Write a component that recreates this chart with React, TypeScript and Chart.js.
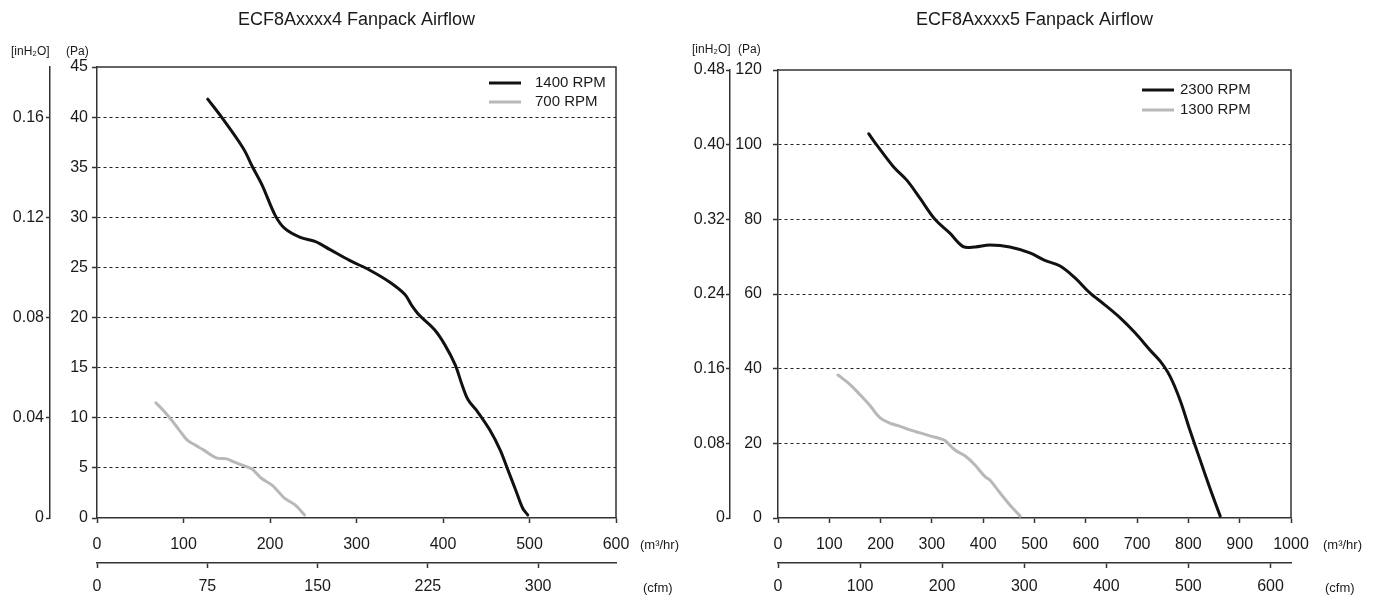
import React, { useEffect, useRef } from "react";
import { Chart, registerables } from "chart.js";
Chart.register(...registerables);

// ---------- Left chart data ----------
const leftTitle = "ECF8Axxxx4 Fanpack Airflow";
const leftXTicks = [0, 100, 200, 300, 400, 500, 600];
const leftCfmTicks = [0, 75, 150, 225, 300];
const leftPaTicks = [0, 5, 10, 15, 20, 25, 30, 35, 40, 45];
const leftInTicks = [0, 0.04, 0.08, 0.12, 0.16];
const leftInLabels = ["0", "0.04", "0.08", "0.12", "0.16"];
const leftLabels = ["1400 RPM", "700 RPM"];
const leftAirflow1400 = [128, 144, 169, 180, 191, 206, 217, 235, 252, 269, 292, 316, 339, 356, 364, 373, 390, 402, 414, 422, 429, 440, 454, 466, 475, 484, 492, 498];
const leftPressure1400 = [41.8, 40, 36.9, 35, 33.2, 30.2, 28.9, 28.0, 27.6, 26.8, 25.7, 24.7, 23.5, 22.3, 21.2, 20.2, 18.8, 17.3, 15.3, 13.3, 11.8, 10.6, 8.8, 6.8, 4.8, 2.8, 1.0, 0.3];
const leftAirflow700 = [68, 76, 84, 94, 104, 113, 123, 138, 150, 158, 167, 179, 185, 190, 202, 210, 217, 229, 240];
const leftPressure700 = [11.5, 10.8, 10, 8.9, 7.8, 7.3, 6.8, 6.0, 5.9, 5.6, 5.3, 4.9, 4.4, 3.96, 3.3, 2.6, 1.96, 1.3, 0.3];

// ---------- Right chart data ----------
const rightTitle = "ECF8Axxxx5 Fanpack Airflow";
const rightXTicks = [0, 100, 200, 300, 400, 500, 600, 700, 800, 900, 1000];
const rightCfmTicks = [0, 100, 200, 300, 400, 500, 600];
const rightPaTicks = [0, 20, 40, 60, 80, 100, 120];
const rightInTicks = [0, 0.08, 0.16, 0.24, 0.32, 0.4, 0.48];
const rightInLabels = ["0", "0.08", "0.16", "0.24", "0.32", "0.40", "0.48"];
const rightLabels = ["2300 RPM", "1300 RPM"];
const rightAirflow2300 = [177, 192, 225, 251, 277, 306, 335, 361, 384, 413, 452, 491, 520, 550, 579, 608, 637, 667, 696, 725, 745, 764, 784, 803, 823, 842, 862];
const rightPressure2300 = [102.9, 100, 94.1, 90.5, 85.6, 80, 76.3, 72.7, 72.6, 73.1, 72.6, 71, 69, 67.5, 64.3, 60.3, 57.1, 53.6, 49.6, 45, 42, 38, 31.5, 23.5, 15.5, 8, 0.5];
const rightAirflow1300 = [117, 140, 160, 180, 199, 218, 237, 257, 277, 296, 315, 326, 345, 365, 384, 404, 413, 433, 452, 472];
const rightPressure1300 = [38.3, 35.8, 33, 30, 26.8, 25.4, 24.6, 23.6, 22.8, 22, 21.3, 20.7, 18.2, 16.6, 14.2, 11, 10.2, 6.7, 3.5, 0.5];

const PA_TO_INH2O = 0.004;
const FONT = "'Liberation Sans', Arial, sans-serif";
const AXIS = "#333333";
const TEXT = "#1a1a1a";

type Series = { label: string; color: string; x: number[]; y: number[] };
type Cfg = {
  title: string;
  xTicks: number[];
  cfmTicks: number[];
  cfmPerM3: number;
  paTicks: number[];
  inTicks: number[];
  inLabels: string[];
  series: Series[];
  y2W: number;
  yW: number;
  padRight: number;
  padTop: number;
  yPad: number;
  y2Pad: number;
  legendTextFromRight: number;
  legendGap: number;
  legendRow1: number;
  legendRowStep: number;
  unitsY: number;
  unitsInX: number;
  unitsPaX: number;
  m3X: number;
  cfmX: number;
};

function ticksFrom(arr: number[]) {
  return (scale: any) => {
    scale.ticks = arr.map((v) => ({ value: v }));
  };
}

function makeConfig(c: Cfg): any {
  const xMax = c.xTicks[c.xTicks.length - 1];
  const paMax = c.paTicks[c.paTicks.length - 1];
  const overlay = {
    id: "overlay",
    afterDraw(chart: any) {
      const ctx = chart.ctx;
      const a = chart.chartArea;
      ctx.save();
      ctx.strokeStyle = AXIS;
      ctx.lineWidth = 1.5;
      ctx.beginPath();
      ctx.moveTo(a.left, a.top);
      ctx.lineTo(a.right, a.top);
      ctx.lineTo(a.right, a.bottom);
      ctx.stroke();
      ctx.fillStyle = TEXT;
      ctx.textAlign = "center";
      ctx.textBaseline = "middle";
      ctx.font = `18px ${FONT}`;
      ctx.fillText(c.title, (a.left + a.right) / 2, 20);
      ctx.textAlign = "left";
      ctx.font = `12px ${FONT}`;
      ctx.fillText("[inH₂O]", c.unitsInX, c.unitsY);
      ctx.fillText("(Pa)", c.unitsPaX, c.unitsY);
      ctx.font = `13px ${FONT}`;
      ctx.fillText("(m³/hr)", c.m3X, 545);
      ctx.fillText("(cfm)", c.cfmX, 588);
      ctx.font = `15px ${FONT}`;
      const tx = a.right - c.legendTextFromRight;
      chart.data.datasets.forEach((ds: any, i: number) => {
        const yy = a.top + c.legendRow1 + i * c.legendRowStep;
        ctx.strokeStyle = ds.borderColor;
        ctx.lineWidth = 3;
        ctx.lineCap = "butt";
        ctx.beginPath();
        ctx.moveTo(tx - c.legendGap - 32, yy);
        ctx.lineTo(tx - c.legendGap, yy);
        ctx.stroke();
        ctx.fillStyle = TEXT;
        ctx.fillText(ds.label, tx, yy);
      });
      ctx.restore();
    },
  };

  const tickFont = { family: FONT, size: 16 };

  return {
    type: "line",
    data: {
      datasets: c.series.map((s) => ({
        label: s.label,
        data: s.x.map((xv, i) => ({ x: xv, y: s.y[i] })),
        borderColor: s.color,
        backgroundColor: s.color,
        borderWidth: 3,
        pointRadius: 0,
        tension: 0.35,
        borderCapStyle: "round",
        xAxisID: "x",
        yAxisID: "y",
      })),
    },
    options: {
      responsive: true,
      maintainAspectRatio: false,
      animation: false,
      layout: { padding: { top: c.padTop, right: c.padRight, left: 0, bottom: 0 } },
      plugins: { legend: { display: false }, title: { display: false }, tooltip: { enabled: false } },
      scales: {
        x: {
          type: "linear",
          position: "bottom",
          min: 0,
          max: xMax,
          afterBuildTicks: ticksFrom(c.xTicks),
          afterFit: (s: any) => {
            s.height = 45;
          },
          grid: { drawOnChartArea: false, drawTicks: true, tickLength: 5, tickColor: AXIS, tickWidth: 1.5 },
          border: { color: AXIS, width: 1.5 },
          ticks: { color: TEXT, font: tickFont, padding: 12, maxRotation: 0, callback: (v: any) => String(v) },
        },
        x2: {
          type: "linear",
          position: "bottom",
          min: 0,
          max: xMax / c.cfmPerM3,
          afterBuildTicks: ticksFrom(c.cfmTicks),
          afterFit: (s: any) => {
            s.height = 36;
          },
          grid: { drawOnChartArea: false, drawTicks: true, tickLength: 5, tickColor: AXIS, tickWidth: 1.5 },
          border: { color: AXIS, width: 1.5 },
          ticks: { color: TEXT, font: tickFont, padding: 9, maxRotation: 0, callback: (v: any) => String(v) },
        },
        y: {
          type: "linear",
          position: "left",
          min: 0,
          max: paMax,
          afterBuildTicks: ticksFrom(c.paTicks),
          afterFit: (s: any) => {
            s.width = c.yW;
          },
          grid: {
            drawTicks: true,
            tickLength: 5,
            tickColor: AXIS,
            tickWidth: 1.5,
            lineWidth: 1,
            color: (ctx: any) =>
              ctx.tick && (ctx.tick.value === 0 || ctx.tick.value === paMax) ? "rgba(0,0,0,0)" : "#222222",
          },
          border: { color: AXIS, width: 1.5, dash: [3, 3] },
          ticks: { color: TEXT, font: tickFont, padding: c.yPad, callback: (v: any) => String(v) },
        },
        y2: {
          type: "linear",
          position: "left",
          min: 0,
          max: paMax * PA_TO_INH2O,
          afterBuildTicks: ticksFrom(c.inTicks),
          afterFit: (s: any) => {
            s.width = c.y2W;
          },
          grid: { drawOnChartArea: false, drawTicks: true, tickLength: 4, tickColor: AXIS, tickWidth: 1.5 },
          border: { color: AXIS, width: 1.5 },
          ticks: {
            color: TEXT,
            font: tickFont,
            padding: c.y2Pad,
            callback: (_v: any, i: number) => c.inLabels[i],
          },
        },
      },
    },
    plugins: [overlay],
  };
}

const leftCfg: Cfg = {
  title: leftTitle,
  xTicks: leftXTicks,
  cfmTicks: leftCfmTicks,
  cfmPerM3: 1.7,
  paTicks: leftPaTicks,
  inTicks: leftInTicks,
  inLabels: leftInLabels,
  series: [
    { label: leftLabels[0], color: "#111111", x: leftAirflow1400, y: leftPressure1400 },
    { label: leftLabels[1], color: "#b8b8b8", x: leftAirflow700, y: leftPressure700 },
  ],
  y2W: 50,
  yW: 47,
  padRight: 73,
  padTop: 67,
  yPad: 4,
  y2Pad: 2,
  legendTextFromRight: 81,
  legendGap: 14,
  legendRow1: 16,
  legendRowStep: 19,
  unitsY: 52,
  unitsInX: 11,
  unitsPaX: 66,
  m3X: 640,
  cfmX: 643,
};

const rightCfg: Cfg = {
  title: rightTitle,
  xTicks: rightXTicks,
  cfmTicks: rightCfmTicks,
  cfmPerM3: 1.6,
  paTicks: rightPaTicks,
  inTicks: rightInTicks,
  inLabels: rightInLabels,
  series: [
    { label: rightLabels[0], color: "#111111", x: rightAirflow2300, y: rightPressure2300 },
    { label: rightLabels[1], color: "#b8b8b8", x: rightAirflow1300, y: rightPressure1300 },
  ],
  y2W: 41,
  yW: 48,
  padRight: 87,
  padTop: 70,
  yPad: 11,
  y2Pad: 1,
  legendTextFromRight: 111,
  legendGap: 6,
  legendRow1: 20,
  legendRowStep: 20,
  unitsY: 50,
  unitsInX: 3,
  unitsPaX: 49,
  m3X: 634,
  cfmX: 636,
};

function Panel({ cfg, left }: { cfg: Cfg; left: number }) {
  const ref = useRef<HTMLCanvasElement | null>(null);
  useEffect(() => {
    if (!ref.current) return;
    const chart = new Chart(ref.current, makeConfig(cfg));
    return () => chart.destroy();
  }, [cfg]);
  return (
    <div style={{ position: "absolute", left, top: 0, width: 689, height: 599 }}>
      <canvas ref={ref} />
    </div>
  );
}

export default function App() {
  return (
    <div style={{ position: "absolute", left: 0, top: 0, width: 1378, height: 599, background: "#ffffff" }}>
      <Panel cfg={leftCfg} left={0} />
      <Panel cfg={rightCfg} left={689} />
    </div>
  );
}
